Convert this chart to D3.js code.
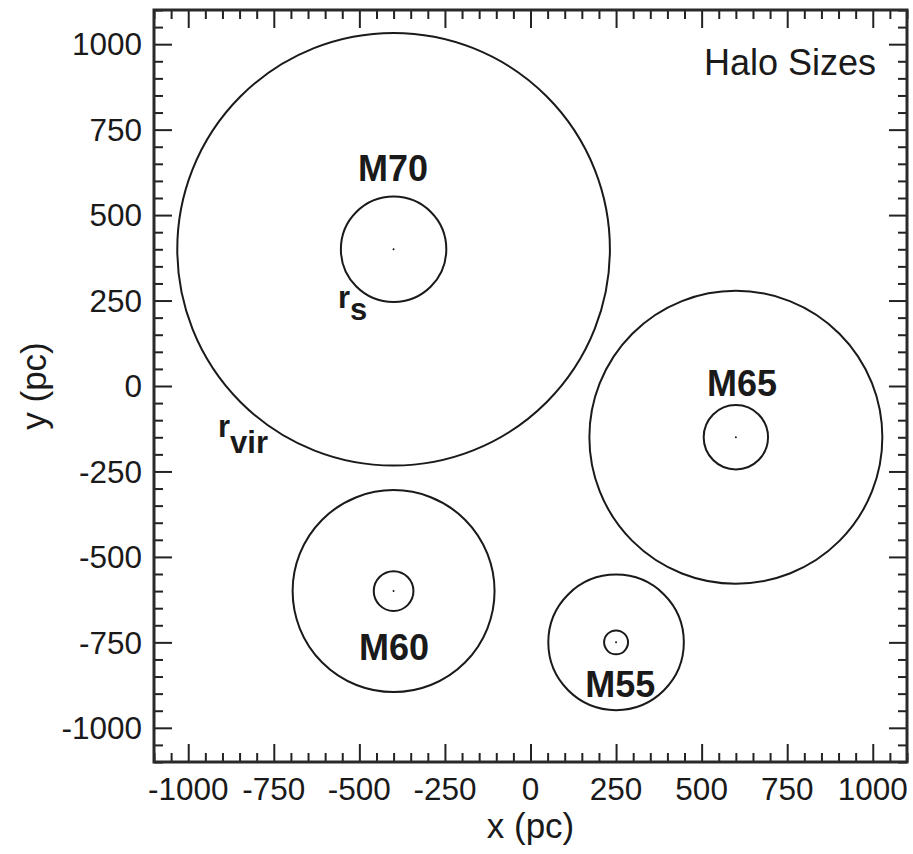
<!DOCTYPE html>
<html>
<head>
<meta charset="utf-8">
<script src="https://cdn.jsdelivr.net/npm/d3@7/dist/d3.min.js"></script>
<style>
  html, body { margin: 0; padding: 0; background: #fff; }
  svg { display: block; }
  text { font-family: "Liberation Sans", Arial, Helvetica, sans-serif; fill: #1a1a1a; }
</style>
</head>
<body>
<svg id="chart" width="913" height="854"></svg>
<script>
// Halo catalogue: centre position (pc), virial radius and scale radius (pc)
const haloNames = ["M70", "M65", "M60", "M55"];
const centerX = [-400, 600, -400, 250];
const centerY = [400, -150, -600, -750];
const virialRadius = [632, 428, 295, 198];
const scaleRadius = [154, 94, 58, 35];

// Label anchors (pc) for the halo names
const labelX = [-402, 618, -399, 262];
const labelY = [601, -30, -802, -910];

// Axis ticks
const majorTicks = [-1000, -750, -500, -250, 0, 250, 500, 750, 1000];
const minorTicks = d3.range(-1100, 1101, 50).filter(v => v % 250 !== 0);

const margin = { top: 10, right: 6, bottom: 92, left: 154 };
const W = 913, H = 854;
const iw = W - margin.left - margin.right;
const ih = H - margin.top - margin.bottom;

const svg = d3.select("#chart");
const g = svg.append("g").attr("transform", `translate(${margin.left},${margin.top})`);

const x = d3.scaleLinear().domain([-1100, 1100]).range([0, iw]);
const y = d3.scaleLinear().domain([-1100, 1100]).range([ih, 0]);

const halos = haloNames.map((name, i) => ({
  name, cx: centerX[i], cy: centerY[i], rvir: virialRadius[i], rs: scaleRadius[i],
  lx: labelX[i], ly: labelY[i]
}));
const rpx = r => x(r) - x(0);

// Ticks on all four sides, pointing inwards (labels are drawn separately)
function styleAxis(sel) {
  sel.select(".domain").remove();
  sel.selectAll(".tick text").remove();
  sel.selectAll(".tick line").attr("stroke", "#222").attr("stroke-width", 2);
}
const sides = [
  { make: () => d3.axisBottom(x), tr: `translate(0,${ih})` },
  { make: () => d3.axisTop(x), tr: "translate(0,0)" },
  { make: () => d3.axisLeft(y), tr: "translate(0,0)" },
  { make: () => d3.axisRight(y), tr: `translate(${iw},0)` }
];
sides.forEach(s => {
  g.append("g").attr("transform", s.tr)
    .call(s.make().tickValues(minorTicks).tickSize(-9).tickFormat(""))
    .call(styleAxis);
  g.append("g").attr("transform", s.tr)
    .call(s.make().tickValues(majorTicks).tickSize(-18).tickFormat(""))
    .call(styleAxis);
});

// Tick labels
g.append("g").selectAll("text").data(majorTicks).join("text")
  .attr("x", d => x(d)).attr("y", ih + 38)
  .attr("text-anchor", "middle").attr("font-size", 31.5)
  .text(d => String(d));
g.append("g").selectAll("text").data(majorTicks).join("text")
  .attr("x", -12).attr("y", d => y(d) + 11.3)
  .attr("text-anchor", "end").attr("font-size", 31.5)
  .text(d => String(d));

// Axis titles
svg.append("text").attr("x", margin.left + x(0)).attr("y", 838)
  .attr("text-anchor", "middle").attr("font-size", 35).text("x (pc)");
svg.append("text").attr("transform", `translate(46,${margin.top + y(0)}) rotate(-90)`)
  .attr("text-anchor", "middle").attr("font-size", 35).text("y (pc)");

// Halo circles: virial radius, scale radius and centre
const hg = g.append("g");
hg.selectAll("circle.vir").data(halos).join("circle").attr("class", "vir")
  .attr("cx", d => x(d.cx)).attr("cy", d => y(d.cy)).attr("r", d => rpx(d.rvir))
  .attr("fill", "none").attr("stroke", "#1a1a1a").attr("stroke-width", 2);
hg.selectAll("circle.rs").data(halos).join("circle").attr("class", "rs")
  .attr("cx", d => x(d.cx)).attr("cy", d => y(d.cy)).attr("r", d => rpx(d.rs))
  .attr("fill", "none").attr("stroke", "#1a1a1a").attr("stroke-width", 2);
hg.selectAll("circle.c").data(halos).join("circle").attr("class", "c")
  .attr("cx", d => x(d.cx)).attr("cy", d => y(d.cy)).attr("r", 1)
  .attr("fill", "#1a1a1a");

// Halo names
hg.selectAll("text.name").data(halos).join("text").attr("class", "name")
  .attr("x", d => x(d.lx)).attr("y", d => y(d.ly))
  .attr("text-anchor", "middle").attr("font-size", 36).attr("font-weight", "bold")
  .text(d => d.name);

// Radius annotations
const rsLab = svg.append("text").attr("x", 338).attr("y", 308)
  .attr("font-size", 31).attr("font-weight", "bold");
rsLab.append("tspan").text("r");
rsLab.append("tspan").attr("dy", 12).text("s");
const rvLab = svg.append("text").attr("x", 218).attr("y", 437)
  .attr("font-size", 31).attr("font-weight", "bold");
rvLab.append("tspan").text("r");
rvLab.append("tspan").attr("dy", 16).text("vir");

// Panel title
svg.append("text").attr("x", 876).attr("y", 75)
  .attr("text-anchor", "end").attr("font-size", 36).text("Halo Sizes");

// Frame
g.append("rect").attr("width", iw).attr("height", ih)
  .attr("fill", "none").attr("stroke", "#2a2a2a").attr("stroke-width", 3);
</script>
</body>
</html>
